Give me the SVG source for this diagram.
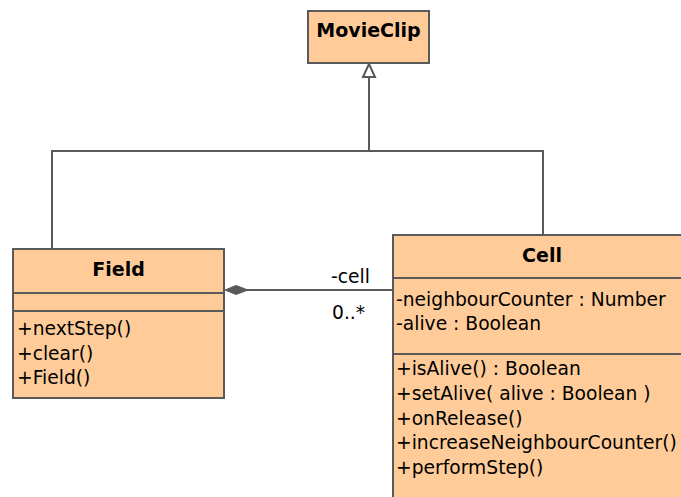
<svg xmlns="http://www.w3.org/2000/svg" width="681" height="497" viewBox="0 0 681 497">
  <style>
    .box { fill: #FFCC99; stroke: #5a5a5a; stroke-width: 2; }
    .sep { stroke: #5a5a5a; stroke-width: 2; fill: none; }
    .edge { stroke: #5a5a5a; stroke-width: 2; fill: none; }
    .title { font-family: "DejaVu Sans", Verdana, sans-serif; font-weight: bold; font-size: 19px; fill: #000; text-anchor: middle; }
    .member { font-family: "DejaVu Sans", Verdana, sans-serif; font-size: 18.7px; fill: #000; }
  </style>
  <rect width="681" height="497" fill="#ffffff"/>

  <!-- inheritance and composition lines -->
  <g id="connectors">
    <polyline class="edge" points="52,249 52,151 543,151 543,235"/>
    <line class="edge" x1="369" y1="151" x2="369" y2="77"/>
    <polygon points="369,64 363,77 375,77" fill="#ffffff" stroke="#5a5a5a" stroke-width="2"/>
    <line class="edge" x1="246" y1="290" x2="393" y2="290"/>
    <polygon points="225,290 236,285.5 248,290 236,294.5" fill="#5a5a5a" stroke="#5a5a5a" stroke-width="1"/>
    <text class="member" x="331" y="283">-cell</text>
    <text class="member" x="332" y="319">0..*</text>
  </g>

  <g id="MovieClip">
    <rect class="box" x="308" y="11" width="121" height="52"/>
    <text class="title" x="368.5" y="37">MovieClip</text>
  </g>

  <g id="Field">
    <rect class="box" x="13" y="249" width="211" height="149"/>
    <line class="sep" x1="13" y1="293" x2="224" y2="293"/>
    <line class="sep" x1="13" y1="311" x2="224" y2="311"/>
    <text class="title" x="118.5" y="276">Field</text>
    <text class="member" x="17" y="335">+nextStep()</text>
    <text class="member" x="17" y="360">+clear()</text>
    <text class="member" x="17" y="384">+Field()</text>
  </g>

  <g id="Cell">
    <rect class="box" x="393" y="235" width="300" height="280"/>
    <line class="sep" x1="393" y1="278" x2="693" y2="278"/>
    <line class="sep" x1="393" y1="354" x2="693" y2="354"/>
    <text class="title" x="542" y="262">Cell</text>
    <text class="member" x="396" y="306">-neighbourCounter : Number</text>
    <text class="member" x="396" y="330">-alive : Boolean</text>
    <text class="member" x="396" y="375">+isAlive() : Boolean</text>
    <text class="member" x="396" y="400">+setAlive( alive : Boolean )</text>
    <text class="member" x="396" y="425">+onRelease()</text>
    <text class="member" x="396" y="449">+increaseNeighbourCounter()</text>
    <text class="member" x="396" y="474">+performStep()</text>
  </g>
</svg>
